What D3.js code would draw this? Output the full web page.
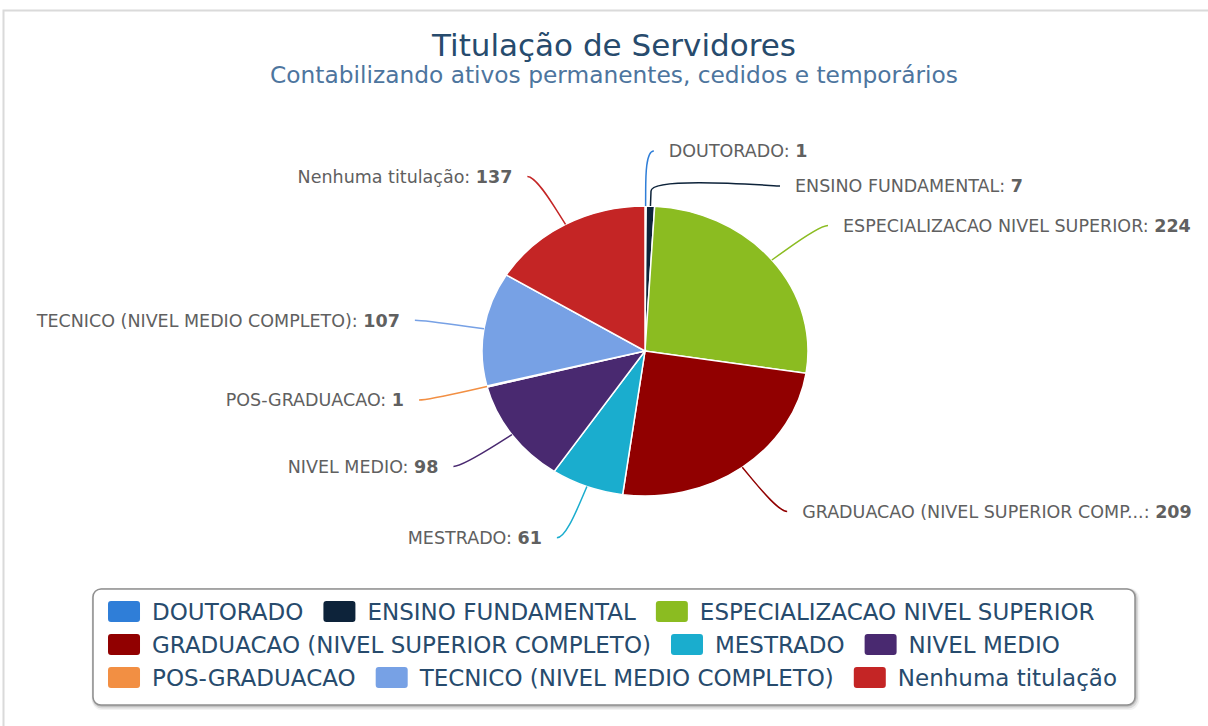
<!DOCTYPE html>
<html>
<head>
<meta charset="utf-8">
<script src="https://cdn.jsdelivr.net/npm/d3@7/dist/d3.min.js"></script>
<style>
  body { margin: 0; background: #fff; }
  text { font-family: "DejaVu Sans", sans-serif; }
</style>
</head>
<body>
<svg id="chart" width="1208" height="726"></svg>
<script>
const categories = ['DOUTORADO', 'ENSINO FUNDAMENTAL', 'ESPECIALIZACAO NIVEL SUPERIOR',
  'GRADUACAO (NIVEL SUPERIOR COMPLETO)', 'MESTRADO', 'NIVEL MEDIO', 'POS-GRADUACAO',
  'TECNICO (NIVEL MEDIO COMPLETO)', 'Nenhuma titulação'];
const values = [1, 7, 224, 209, 61, 98, 1, 107, 137];
const colors = ['#2f7ed8', '#0d233a', '#8bbc21', '#910000', '#1aadce', '#492970',
  '#f28f43', '#77a1e5', '#c42525'];
const titleText = 'Titulação de Servidores';
const subtitleText = 'Contabilizando ativos permanentes, cedidos e temporários';

const W = 1208, H = 726;
const cx = 645, cy = 351;
const r = 145, kx = 1.124;      // pie is drawn a bit wider than tall
const labelR = 200, connOff = 15;

const svg = d3.select('#chart');

// outer frame of the page
svg.append('rect')
  .attr('x', 3.5).attr('y', 10.5)
  .attr('width', W + 20).attr('height', H + 20)
  .attr('fill', 'none').attr('stroke', '#dadada').attr('stroke-width', 2);

svg.append('text')
  .attr('x', 614).attr('y', 56)
  .attr('text-anchor', 'middle')
  .attr('font-size', 31).attr('fill', '#274b6d')
  .text(titleText);

svg.append('text')
  .attr('x', 614).attr('y', 83)
  .attr('text-anchor', 'middle')
  .attr('font-size', 23.3).attr('fill', '#4d759e')
  .text(subtitleText);

const data = categories.map((name, i) => ({ name, value: values[i], color: colors[i] }));

const pie = d3.pie().value(d => d.value).sort(null);
const arcs = pie(data);
const arc = d3.arc().innerRadius(0).outerRadius(r);

const pieG = svg.append('g')
  .attr('transform', `translate(${cx},${cy}) scale(${kx},1)`);

pieG.selectAll('path')
  .data(arcs)
  .enter().append('path')
  .attr('d', arc)
  .attr('fill', d => d.data.color)
  .attr('stroke', '#fff')
  .attr('stroke-width', 1.5)
  .attr('vector-effect', 'non-scaling-stroke');

// point on the (stretched) circle; angle measured from 3 o'clock
const P = (a, rad) => [cx + kx * Math.cos(a) * rad, cy + Math.sin(a) * rad];

arcs.forEach(d => {
  d.mid = (d.startAngle + d.endAngle) / 2 - Math.PI / 2;
  d.left = Math.cos(d.mid) < 0;
  d.y = cy + Math.sin(d.mid) * labelR;
});

// keep labels on each side apart
const minGap = 35;
[false, true].forEach(side => {
  const list = arcs.filter(d => d.left === side).sort((a, b) => a.y - b.y);
  for (let i = 1; i < list.length; i++) {
    if (list[i].y - list[i - 1].y < minGap) list[i].y = list[i - 1].y + minGap;
  }
});

const fmtName = n => n.length > 30 ? n.slice(0, 30) + '...' : n;

const labelG = svg.append('g');
arcs.forEach(d => {
  const s = d.left ? -1 : 1;
  const dy = Math.max(-1, Math.min(1, (d.y - cy) / labelR));
  const xa = cx + s * Math.cos(Math.asin(dy)) * labelR * kx;
  const base = P(d.mid, r);
  const brk = P(d.mid, r + connOff);
  const ctl = P(d.mid, r + 2 * connOff);
  const path = d3.path();
  path.moveTo(xa + s * 8, d.y);
  path.bezierCurveTo(xa, d.y, ctl[0], ctl[1], brk[0], brk[1]);
  path.lineTo(base[0], base[1]);

  labelG.append('path')
    .attr('d', path.toString())
    .attr('fill', 'none')
    .attr('stroke', d.data.color)
    .attr('stroke-width', 1.5);

  const t = labelG.append('text')
    .attr('x', xa + s * 23).attr('y', d.y)
    .attr('dy', '0.36em')
    .attr('text-anchor', d.left ? 'end' : 'start')
    .attr('font-size', 17.5).attr('fill', '#606060');
  t.append('tspan').text(fmtName(d.data.name) + ': ');
  t.append('tspan').attr('font-weight', 'bold').text(d.data.value);
});

// legend
const sym = { w: 32, h: 21 }, symGap = 12, itemGap = 20, rowH = 33, maxRow = 1040;
const legG = svg.append('g');
const items = data.map(d => {
  const g = legG.append('g');
  g.append('rect')
    .attr('width', sym.w).attr('height', sym.h)
    .attr('rx', 3).attr('fill', d.color);
  const tx = g.append('text')
    .attr('x', sym.w + symGap).attr('y', sym.h / 2)
    .attr('dy', '0.36em')
    .attr('font-size', 23).attr('fill', '#274b6d')
    .text(d.name);
  return { g, w: sym.w + symGap + tx.node().getComputedTextLength() };
});

let lx = 0, ly = 0, widest = 0;
items.forEach(it => {
  if (lx > 0 && lx + it.w > maxRow) { lx = 0; ly += rowH; }
  it.x = lx; it.y = ly;
  widest = Math.max(widest, lx + it.w);
  lx += it.w + itemGap;
});

const padL = 15, padR = 18, padT = 12, padB = 17;
const boxW = widest + padL + padR;
const boxH = ly + sym.h + padT + padB;
const boxX = 614 - boxW / 2, boxY = 589;

// soft shadow under the legend box
[3, 2, 1].forEach(k => {
  svg.insert('rect', 'g')
    .attr('x', boxX + k * 0.5).attr('y', boxY + k * 0.7)
    .attr('width', boxW).attr('height', boxH)
    .attr('rx', 8)
    .attr('fill', 'none')
    .attr('stroke', '#000')
    .attr('stroke-opacity', 0.05 * (4 - k))
    .attr('stroke-width', 2 * k);
});
legG.insert('rect', ':first-child')
  .attr('x', boxX).attr('y', boxY)
  .attr('width', boxW).attr('height', boxH)
  .attr('rx', 8)
  .attr('fill', '#fff')
  .attr('stroke', '#909090').attr('stroke-width', 1.5);

items.forEach(it => {
  it.g.attr('transform', `translate(${boxX + padL + it.x},${boxY + padT + it.y})`);
});
</script>
</body>
</html>
